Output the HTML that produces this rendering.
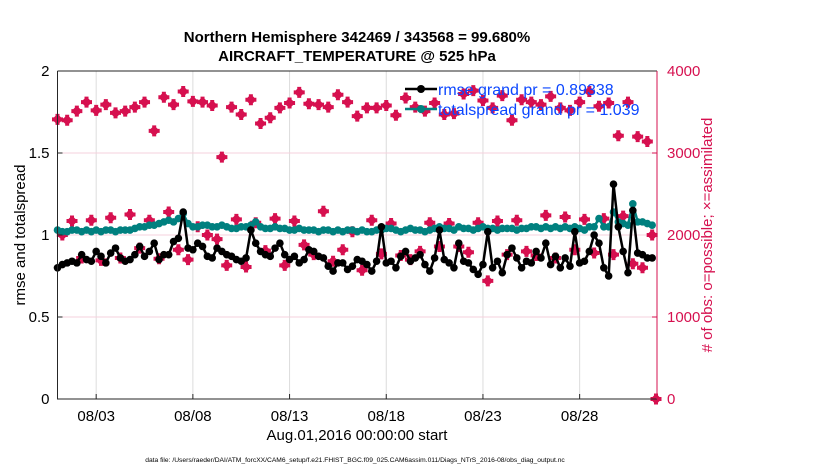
<!DOCTYPE html>
<html><head><meta charset="utf-8"><style>
body{margin:0;background:#fff;width:830px;height:470px;overflow:hidden;font-family:"Liberation Sans",sans-serif}
</style></head><body>
<svg id="chart" width="830" height="470" xmlns="http://www.w3.org/2000/svg" font-family="Liberation Sans, sans-serif">
<g font-weight="bold" font-size="15" text-anchor="middle" fill="#000">
<text x="357" y="42">Northern Hemisphere 342469 / 343568 = 99.680%</text>
<text x="357" y="61">AIRCRAFT_TEMPERATURE @ 525 hPa</text>
</g>
<g id="grid"></g>
<g id="series"></g>
<g id="axes"></g>
<text transform="translate(25,235) rotate(-90)" text-anchor="middle" font-size="15">rmse and totalspread</text>
<text transform="translate(712,235) rotate(-90)" text-anchor="middle" font-size="15" fill="#d6104f"># of obs: o=possible; ×=assimilated</text>
<text x="357" y="440" text-anchor="middle" font-size="15">Aug.01,2016 00:00:00 start</text>
<text x="355" y="462" text-anchor="middle" font-size="6.7">data file: /Users/raeder/DAI/ATM_forcXX/CAM6_setup/f.e21.FHIST_BGC.f09_025.CAM6assim.011/Diags_NTrS_2016-08/obs_diag_output.nc</text>
<g>
<line x1="405" y1="89" x2="437" y2="89" stroke="#000" stroke-width="2.5"/><circle cx="421" cy="89" r="4" fill="#000"/>
<text x="438" y="95" font-size="16" fill="#0b46ff">rmse grand pr = 0.89338</text>
<line x1="405" y1="109" x2="437" y2="109" stroke="#00807f" stroke-width="2.5"/><circle cx="421" cy="109" r="4" fill="#00807f"/>
<text x="438" y="115" font-size="16" fill="#0b46ff">totalspread grand pr = 1.039</text>
</g>
</svg>
<script>
const xTickLabels=["08/03","08/08","08/13","08/18","08/23","08/28"];
const xTickDays=[3,8,13,18,23,28];
const yTicksLeft=[0,0.5,1,1.5,2];
const yTicksRight=[0,1000,2000,3000,4000];
const rmse=[0.80,0.82,0.83,0.84,0.83,0.88,0.85,0.84,0.90,0.87,0.83,0.89,0.92,0.86,0.84,0.85,0.88,0.93,0.87,0.90,0.95,0.85,0.88,0.88,0.96,0.98,1.14,0.92,0.91,0.95,0.93,0.87,0.86,0.92,0.90,0.88,0.87,0.85,0.84,0.86,1.03,0.95,0.90,0.88,0.87,0.92,0.95,0.88,0.85,0.87,0.83,0.85,0.91,0.90,0.87,0.86,0.81,0.78,0.83,0.83,0.79,0.81,0.85,0.84,0.82,0.78,0.84,1.05,0.83,0.84,0.80,0.87,0.90,0.84,0.86,0.88,0.82,0.78,0.86,1.03,0.85,0.83,0.80,0.95,0.84,0.83,0.79,0.76,0.82,1.02,0.80,0.84,0.77,0.88,0.92,0.86,0.80,0.84,0.83,0.90,0.86,0.95,0.82,0.87,0.80,0.86,0.81,1.02,0.83,0.84,0.90,1.00,0.95,0.80,0.75,1.31,1.05,0.90,0.77,1.15,0.89,0.88,0.86,0.86];
const spread=[1.03,1.02,1.02,1.03,1.03,1.02,1.03,1.02,1.03,1.02,1.03,1.03,1.02,1.03,1.03,1.03,1.04,1.05,1.05,1.06,1.06,1.07,1.08,1.09,1.08,1.10,1.13,1.07,1.05,1.05,1.06,1.06,1.05,1.05,1.06,1.05,1.04,1.04,1.05,1.05,1.06,1.08,1.05,1.04,1.04,1.05,1.04,1.04,1.03,1.03,1.04,1.03,1.03,1.03,1.02,1.03,1.03,1.02,1.03,1.02,1.03,1.03,1.02,1.03,1.02,1.02,1.03,1.03,1.04,1.04,1.03,1.02,1.03,1.04,1.03,1.03,1.02,1.03,1.04,1.05,1.04,1.04,1.03,1.05,1.04,1.04,1.03,1.04,1.05,1.04,1.04,1.03,1.04,1.04,1.04,1.03,1.04,1.04,1.05,1.05,1.04,1.05,1.04,1.05,1.04,1.05,1.04,1.05,1.04,1.03,1.05,1.05,1.10,1.05,1.05,1.14,1.08,1.07,1.06,1.19,1.08,1.08,1.07,1.06];
const obsHigh=[3410,3400,3510,3620,3520,3590,3490,3510,3560,3620,3270,3680,3590,3750,3630,3620,3580,2950,3560,3470,3650,3360,3430,3550,3610,3740,3600,3590,3560,3710,3620,3450,3550,3550,3580,3460,3670,3560,3510,3610,3470,3480,3720,3760,3640,3550,3700,3400,3650,3620,3590,3690,3550,3520,3620,3750,3570,3610,3210,3620,3200,3140];
const obsLow=[2000,2170,1720,2180,1690,2210,1720,2250,1840,2180,1710,2280,1820,1700,2100,2000,1950,1630,2190,1610,2150,1810,2200,1630,2170,1880,1760,2290,1680,1820,2040,1570,2180,1770,2140,1750,1700,1800,2150,1860,2140,1860,1790,2150,1440,2170,1760,2180,1800,1750,2240,1720,2220,1820,2190,1780,2200,1760,2230,1650,1600,2000];
const NS="http://www.w3.org/2000/svg";
const L=57.5,R=657,T=71,B=399,D0=1,D1=32;
const xS=d=>L+(d-D0)/(D1-D0)*(R-L);
const yL=v=>B-v/2*(B-T);
const yR=n=>B-n/4000*(B-T);
function mk(tag,attrs,parent){const e=document.createElementNS(NS,tag);for(const k in attrs)e.setAttribute(k,attrs[k]);parent.appendChild(e);return e;}
const grid=document.getElementById('grid'),series=document.getElementById('series'),axes=document.getElementById('axes');
xTickDays.forEach((d,i)=>{
 const g=mk('line',{x1:xS(d),x2:xS(d),y1:T,y2:B,stroke:'#dcdcdc','stroke-width':1},grid);
 
 
 mk('line',{x1:xS(d),x2:xS(d),y1:B,y2:B-5,stroke:'#262626'},axes);
 const t=mk('text',{x:xS(d),y:B+22,'text-anchor':'middle','font-size':'15'},axes);t.textContent=xTickLabels[i];
 
 
});
yTicksLeft.forEach(v=>{
 if(v>0&&v<2){const g=mk('line',{x1:L,x2:R,y1:yL(v),y2:yL(v),stroke:'#f6d0dc','stroke-width':1},grid);
 
 }
 mk('line',{x1:L,x2:L+5,y1:yL(v),y2:yL(v),stroke:'#262626'},axes);
 const t=mk('text',{x:L-8,y:yL(v)+5,'text-anchor':'end','font-size':'15'},axes);t.textContent=v;
 
 
});
yTicksRight.forEach(v=>{
 mk('line',{x1:R-5,x2:R,y1:yR(v),y2:yR(v),stroke:'#d6104f'},axes);
 const t=mk('text',{x:R+10,y:yR(v)+5,'font-size':'15',fill:'#d6104f'},axes);t.textContent=v;
 
 
});
mk('polyline',{points:`${L},${T} ${L},${B} ${R},${B}`,fill:'none',stroke:'#262626','stroke-width':1},axes);
mk('line',{x1:L,x2:R,y1:T,y2:T,stroke:'#262626'},axes);
mk('line',{x1:R,x2:R,y1:T,y2:B,stroke:'#d6104f'},axes);
function star(x,y,p){const s=mk('path',{d:`M${x-2},${y-5.5}h4v3.5h3.5v4h-3.5v3.5h-4v-3.5h-3.5v-4h3.5z M${x},${y-5.5} l5.5,5.5 l-5.5,5.5 l-5.5,-5.5z`,fill:'#d6104f'},p);return s;}
function obsSeries(arr,off,name){arr.forEach((n,i)=>{const d=D0+off+i*0.5;const s=star(xS(d),yR(n),series);
 
 });}
obsSeries(obsHigh,0,'obs-possible-point');
obsSeries(obsLow,0.25,'obs-assimilated-point');
const z=star(R-1,B,series);


function line(arr,color,name){
 const pts=arr.map((v,i)=>`${xS(D0+i*0.25).toFixed(1)},${yL(v).toFixed(1)}`).join(' ');
 const pl=mk('polyline',{points:pts,fill:'none',stroke:color,'stroke-width':2.5},series);
 
 
 arr.forEach((v,i)=>{const c=mk('circle',{cx:xS(D0+i*0.25),cy:yL(v),r:3.8,fill:color},series);
 
 });
}
line(spread,'#00807f','totalspread');
line(rmse,'#000','rmse');
</script>
</body></html>
